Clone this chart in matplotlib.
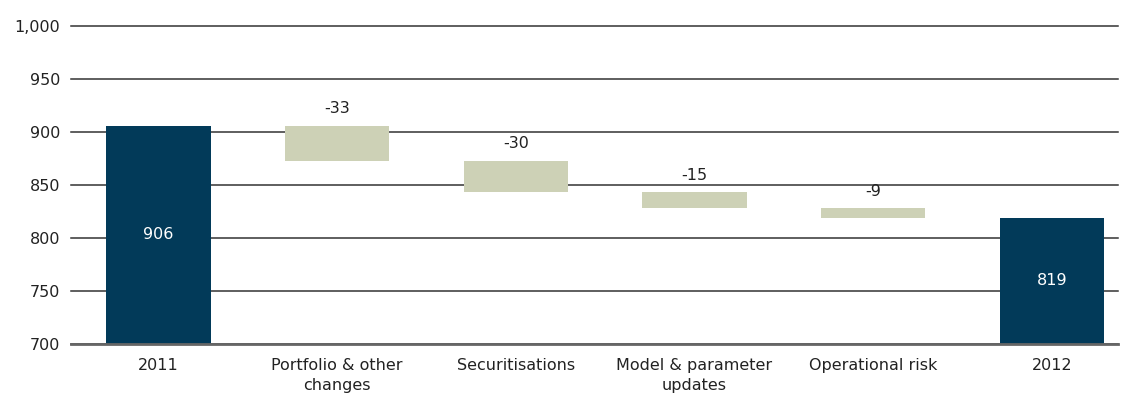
import numpy as np
import matplotlib.pyplot as plt

# RWA bridge 2011 -> 2012
labels = ["2011", "Portfolio & other\nchanges", "Securitisations",
          "Model & parameter\nupdates", "Operational risk", "2012"]
start_value = 906
changes = [-33, -30, -15, -9]
end_value = start_value + sum(changes)

navy = "#023a59"
beige = "#cdd1b6"

fig = plt.figure(figsize=(11.28, 4.01), dpi=100)
ax = fig.add_axes([0.063, 0.142, 0.928, 0.793])

base = 700
x = np.arange(len(labels))
w = 0.585

# totals
for xi, val in [(0, start_value), (5, end_value)]:
    ax.bar(xi, val - base, bottom=base, width=w, color=navy, zorder=3)
    ax.text(xi, base + (val - base) / 2, str(val), color="white",
            ha="center", va="center", fontsize=11.5, zorder=4)

# floating steps
level = start_value
for i, d in enumerate(changes, start=1):
    top = level
    level = level + d
    ax.bar(i, top - level, bottom=level, width=w, color=beige, zorder=3)
    ax.text(i, top + 9, f"{d}", ha="center", va="bottom",
            fontsize=11.5, color="#222222", zorder=4)

ax.set_ylim(700, 1000)
ax.set_xlim(-0.49, 5.37)
ax.set_yticks(np.arange(700, 1001, 50))
ax.set_yticklabels([f"{v:,}" for v in range(700, 1001, 50)])
ax.set_xticks(x)
ax.set_xticklabels(labels, linespacing=1.45, va="top")

ax.yaxis.grid(True, color="#333333", linewidth=1.1, zorder=0)
for gl in ax.get_ygridlines():
    gl.set_clip_on(False)
ax.set_axisbelow(True)
for s in ["top", "right", "left"]:
    ax.spines[s].set_visible(False)
ax.spines["bottom"].set_color("#666666")
ax.spines["bottom"].set_linewidth(2)
ax.spines["bottom"].set_zorder(5)
ax.tick_params(axis="both", length=0, labelsize=11.5, colors="#222222")
ax.tick_params(axis="x", pad=10)
ax.tick_params(axis="y", pad=8)

fig.savefig("out.png", dpi=100)
